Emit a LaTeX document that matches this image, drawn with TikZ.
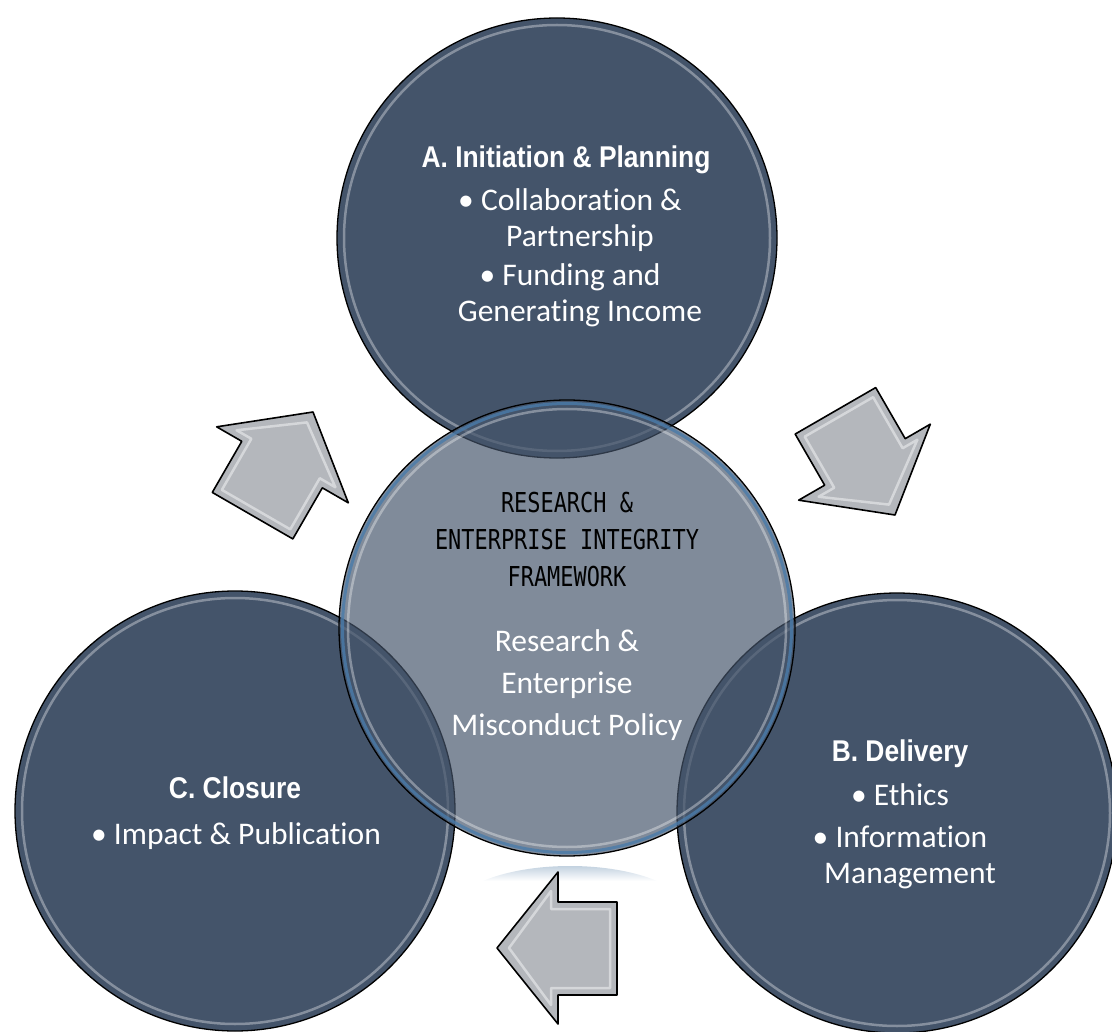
\documentclass[tikz,border=0pt]{standalone}
\usepackage{fontspec}
\setmainfont[Ligatures={TeX,NoCommon}]{Carlito}
\newfontfamily\headfont[FakeStretch=0.88]{Liberation Sans}
\newfontfamily\gothicfont[FakeStretch=0.8]{DejaVu Sans Mono}
\definecolor{slate}{HTML}{44546A}
\definecolor{arrowgray}{HTML}{B4B7BC}
\definecolor{rimblue}{HTML}{4A7BAA}
\definecolor{reflblue}{HTML}{AFC3D6}
\tikzset{
  bubble/.style={circle, fill=slate, draw=black, line width=1.3pt, minimum size=440pt, inner sep=0pt},
  hub/.style={circle, fill=slate, fill opacity=0.68, draw=black, line width=1.3pt, minimum size=456pt, inner sep=0pt},
  gloss/.style={draw=white, draw opacity=0.35, line width=2.5pt},
  headtext/.style={text=white, font=\headfont\bfseries\fontsize{30}{36}\selectfont},
  bodytext/.style={text=white, align=center, font=\fontsize{31.5}{36}\selectfont},
  hubtitle/.style={text=black, align=center, font=\gothicfont\fontsize{27.4}{37}\selectfont},
  cyclearrow/.pic={
    \draw[fill=arrowgray, line width=1.6pt, line join=round] (0,0) -- (-61,76) -- (-61,46) -- (-120,46) -- (-120,-47) -- (-61,-47) -- (-61,-76) -- cycle;
    \draw[white, opacity=0.45, line width=2.5pt, line join=round] (-12,0) -- (-54,57) -- (-54,39) -- (-113,39) -- (-113,-40) -- (-54,-40) -- (-54,-57) -- cycle;
  }
}
\begin{document}
\begin{tikzpicture}[x=1pt,y=-1pt]
\useasboundingbox (0,0) rectangle (1112,1032);

\node[bubble] (initiation) at (557,238) {};
\node[bubble] (closure) at (235,811) {};
\node[bubble] (delivery) at (897,813) {};
\draw[gloss] (initiation.center) circle[radius=213pt];
\draw[gloss] (closure.center) circle[radius=213pt];
\draw[gloss] (delivery.center) circle[radius=213pt];

\shade[top color=reflblue, bottom color=white] (483,881) .. controls (530,861) and (610,861) .. (657,881) -- cycle;

\node[hub] (framework) at (567,628) {};
\draw[rimblue, line width=3pt, opacity=0.8] (framework.center) circle[radius=224.5pt];
\draw[gloss] (framework.center) circle[radius=219pt];

\pic[rotate=60] (backarrow) at (313,412) {cyclearrow};
\pic[rotate=-60] (nextarrow) at (895,515) {cyclearrow};
\pic[rotate=180] (closearrow) at (497,948) {cyclearrow};

\node[headtext] (inithead) at (566,160) {A. Initiation \& Planning};
\node[bodytext] (initbody) at (570,258) {\textbullet\ Collaboration \&\\\hspace*{20pt}Partnership\\[3pt]\textbullet\ Funding and\\\hspace*{20pt}Generating Income};

\node[hubtitle] (hubhead) at (567,540) {RESEARCH \&\\ENTERPRISE INTEGRITY\\FRAMEWORK};
\node[bodytext, font=\fontsize{31.5}{42}\selectfont] (hubbody) at (567,685) {Research \&\\Enterprise\\Misconduct Policy};

\node[headtext] (closehead) at (235,788) {C. Closure};
\node[bodytext] (closebody) at (236,836) {\textbullet\ Impact \& Publication};

\node[headtext] (delhead) at (900,754) {B. Delivery};
\node[bodytext] (delbody) at (900,836) {\textbullet\ Ethics\\[6pt]\textbullet\ Information\\\hspace*{20pt}Management};
\end{tikzpicture}
\end{document}
